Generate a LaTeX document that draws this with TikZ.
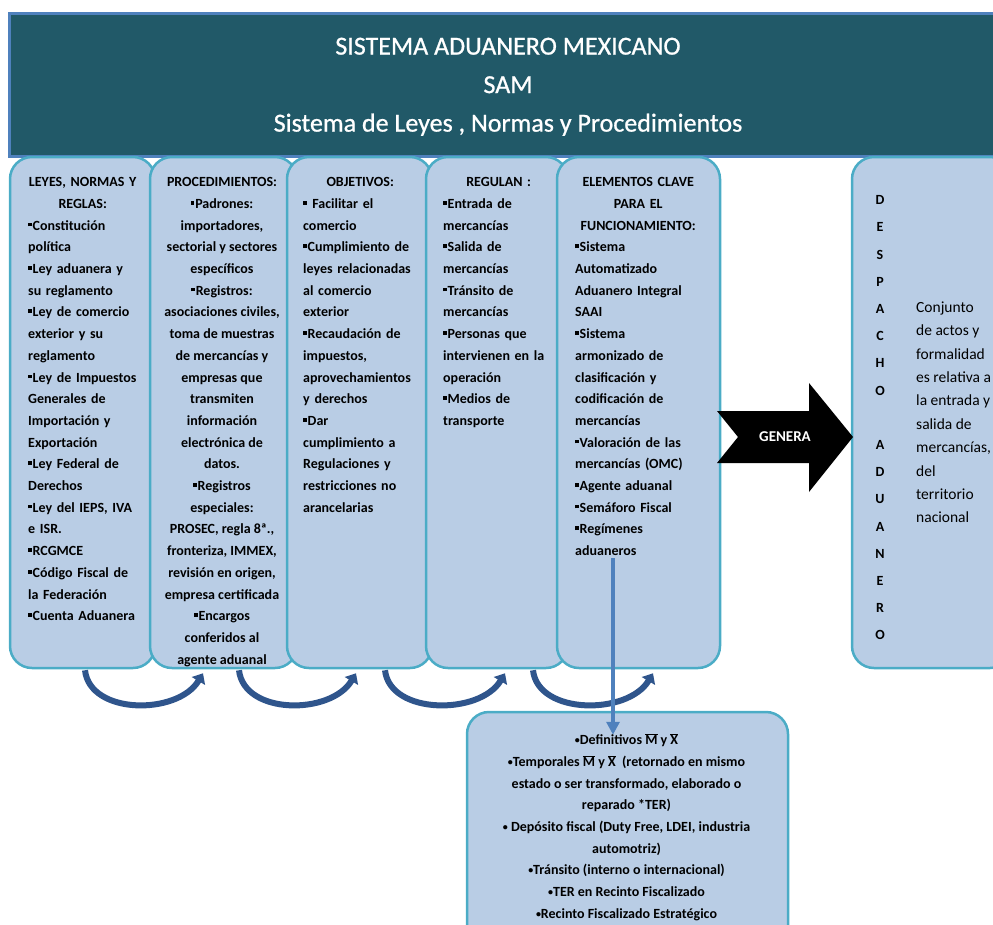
\documentclass[tikz,border=0pt]{standalone}
\usepackage{fontspec}
\setmainfont{Carlito}
\newfontfamily\hdrfont[FakeBold=0.8]{Carlito}
\usetikzlibrary{arrows.meta,calc}
\definecolor{hdrfill}{RGB}{33,89,104}
\definecolor{hdrline}{RGB}{79,129,189}
\definecolor{boxfill}{RGB}{185,205,229}
\definecolor{boxline}{RGB}{75,172,198}
\definecolor{arcblue}{RGB}{47,85,140}
\definecolor{vblue}{RGB}{79,129,189}
\newcommand\sqb{\raisebox{0.27em}{\rule{0.26em}{0.26em}}\kern0.06em}
\newcommand\rbul{\raisebox{0.08em}{\fontsize{10}{10}\selectfont•}}
\newcommand\ovl[1]{$\overline{\mbox{#1}}$}
\begin{document}
\begin{tikzpicture}[x=1pt,y=-1pt,
  colbox/.style={draw=boxline, fill=boxfill, line width=2.5pt, rounded corners=22pt, inner sep=0pt, minimum height=511pt},
  coltext/.style={inner sep=0pt, anchor=north west, font=\fontsize{14}{21.7}\selectfont\bfseries},
  arcarrow/.style={draw=arcblue, line width=6pt, -{Triangle[length=9pt,width=15pt]}},
  varrow/.style={draw=vblue, line width=3.5pt, -{Triangle[length=13pt,width=13pt]}}]
\useasboundingbox (0,0) rectangle (993,924);
% header
\node[draw=hdrline, fill=hdrfill, line width=2.5pt, minimum width=1000pt, minimum height=143pt, anchor=north west, inner sep=0pt] (hdr) at (8,12) {};
\node[text=white, font=\hdrfont\fontsize{26}{38.5}\selectfont, align=center, anchor=north, inner sep=0pt] (title) at (508,34.4)
  {\rule{0pt}{20pt}SISTEMA ADUANERO MEXICANO\\SAM\\Sistema de Leyes , Normas y Procedimientos};
% columns
\node[colbox, minimum width=145pt] (col1) at (82.5,412.5) {};
\node[colbox, minimum width=147pt] (col2) at (223.5,412.5) {};
\node[colbox, minimum width=145pt] (col3) at (359.5,412.5) {};
\node[colbox, minimum width=142pt] (col4) at (497,412.5) {};
\node[colbox, minimum width=163pt] (col5) at (638.5,412.5) {};
\node[colbox, minimum width=160pt] (col6) at (932,412.5) {};
\node[colbox, minimum width=321pt, minimum height=248pt] (bot) at (627.5,836) {};
% curved arrows
\draw[arcarrow] ($(col1.south)+(2.5,1)$) .. controls +(5,45) and +(-25,42) .. ($(col2.south)+(-20.5,4)$);
\draw[arcarrow] ($(col2.south)+(15.5,1)$) .. controls +(5,45) and +(-25,42) .. ($(col3.south)+(-3.5,4)$);
\draw[arcarrow] ($(col3.south)+(25.5,1)$) .. controls +(5,45) and +(-25,42) .. ($(col4.south)+(8,4)$);
\draw[arcarrow] ($(col4.south)+(36,1)$) .. controls +(5,45) and +(-25,42) .. ($(col5.south)+(14.5,4)$);
% vertical arrow
\coordinate (vs) at (613,558);
\draw[varrow] (vs) -- ($(vs |- bot.north)+(0,24)$);
% GENERA arrow
\fill[black] (717,411) -- (809,411) -- (809,383) -- (853,437) -- (809,492) -- (809,463) -- (717,463) -- (738,437) -- cycle;
\node[text=white, font=\fontsize{15}{16}\selectfont\bfseries, inner sep=0pt] (gen) at (785,437) {GENERA};
% column texts
\node[coltext, text width=109pt] (t1) at (28,176.5) {\centering\rule{0pt}{10pt}LEYES, NORMAS Y\\REGLAS:\par\raggedright
\sqb Constitución\\política\\\sqb Ley aduanera y\\su reglamento\\\sqb Ley de comercio\\exterior y su\\reglamento\\\sqb Ley de Impuestos\\Generales de\\Importación y\\Exportación\\\sqb Ley Federal de\\Derechos\\\sqb Ley del IEPS, IVA\\e ISR.\\\sqb RCGMCE\\\sqb Código Fiscal de\\la Federación\\\sqb Cuenta Aduanera};
\node[coltext, align=center, anchor=north] (t2) at (222,176.5) {\rule{0pt}{10pt}PROCEDIMIENTOS:\\\sqb Padrones:\\importadores,\\sectorial y sectores\\específicos\\\sqb Registros:\\asociaciones civiles,\\toma de muestras\\de mercancías y\\empresas que\\transmiten\\información\\electrónica de\\datos.\\\sqb Registros\\especiales:\\PROSEC, regla 8ª.,\\fronteriza, IMMEX,\\revisión en origen,\\empresa certificada\\\sqb Encargos\\conferidos al\\agente aduanal};
\node[coltext, text width=114pt] (t3) at (303,176.5) {\centering\rule{0pt}{10pt}OBJETIVOS:\par\raggedright
\sqb\ Facilitar el\\comercio\\\sqb Cumplimiento de\\leyes relacionadas\\al comercio\\exterior\\\sqb Recaudación de\\impuestos,\\aprovechamientos\\y derechos\\\sqb Dar\\cumplimiento a\\Regulaciones y\\restricciones no\\arancelarias};
\node[coltext, text width=111pt] (t4) at (443,176.5) {\centering\rule{0pt}{10pt}REGULAN :\par\raggedright
\sqb Entrada de\\mercancías\\\sqb Salida de\\mercancías\\\sqb Tránsito de\\mercancías\\\sqb Personas que\\intervienen en la\\operación\\\sqb Medios de\\transporte};
\node[coltext, text width=126pt] (t5) at (575,176.5) {\centering\rule{0pt}{10pt}ELEMENTOS CLAVE\\PARA EL\\FUNCIONAMIENTO:\par\raggedright
\sqb Sistema\\Automatizado\\Aduanero Integral\\SAAI\\\sqb Sistema\\armonizado de\\clasificación y\\codificación de\\mercancías\\\sqb Valoración de las\\mercancías (OMC)\\\sqb Agente aduanal\\\sqb Semáforo Fiscal\\\sqb Regímenes\\aduaneros};
% despacho
\node[font=\fontsize{14}{27.2}\selectfont\bfseries, align=center, anchor=north, inner sep=0pt] (desp) at (880,194.5)
  {\rule{0pt}{10pt}D\\E\\S\\P\\A\\C\\H\\O\\\mbox{}\\A\\D\\U\\A\\N\\E\\R\\O};
\node[font=\fontsize{15.5}{23.4}\selectfont, align=left, anchor=north west, inner sep=0pt] (conj) at (916,298)
  {\rule{0pt}{14pt}Conjunto\\de actos y\\formalidad\\es relativa a\\la entrada y\\salida de\\mercancías,\\del\\territorio\\nacional};
% bottom box text
\node[coltext, align=center, anchor=north] (bt) at (626.5,732.5)
  {\rule{0pt}{12pt}\rbul Definitivos \ovl{M} y \ovl{X}\\\rbul Temporales \ovl{M} y \ovl{X}\ \ (retornado en mismo\\estado o ser transformado, elaborado o\\reparado *TER)\\\rbul\ Depósito fiscal (Duty Free, LDEI, industria\\automotriz)\\\rbul Tránsito (interno o internacional)\\\rbul TER en Recinto Fiscalizado\\\rbul Recinto Fiscalizado Estratégico};
\end{tikzpicture}
\end{document}
